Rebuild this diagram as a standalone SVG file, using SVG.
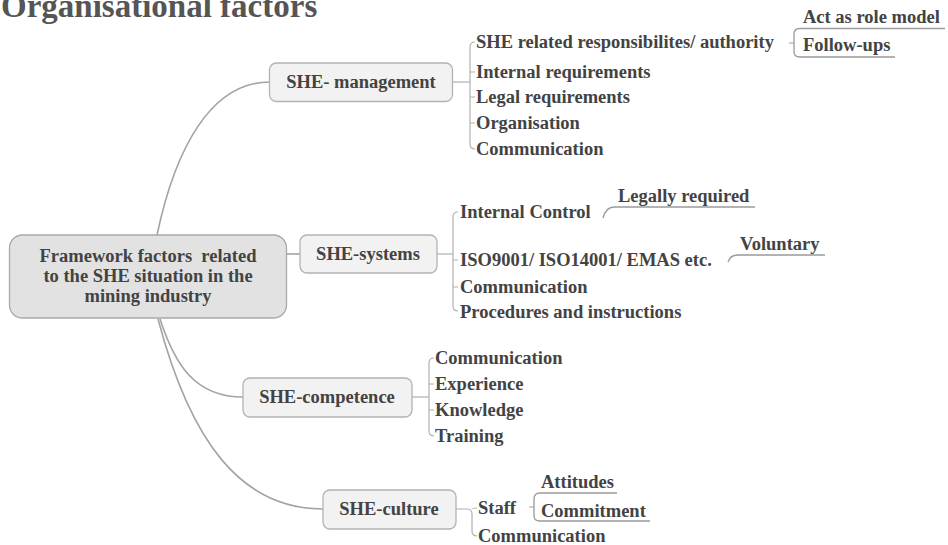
<svg xmlns="http://www.w3.org/2000/svg" width="948" height="545" viewBox="0 0 948 545" font-family="'Liberation Serif', 'Times New Roman', 'DejaVu Serif', serif">
<style>
text{font-family:'Liberation Serif','Times New Roman','DejaVu Serif',serif;font-weight:700;fill:#434343}
.t{font-size:18.5px}
.c{text-anchor:middle}
.title{font-size:33px;fill:#555}
.root{fill:#e2e2e2;stroke:#a9a9a9;stroke-width:1.3}
.node{fill:#f2f2f2;stroke:#b3b3b3;stroke-width:1.3}
.ln{fill:none;stroke:#a3a3a3;stroke-width:1.6}
.br{fill:none;stroke:#b0b0b0;stroke-width:1.2}
.ul{fill:none;stroke:#9a9a9a;stroke-width:1.3}
</style>
<rect width="948" height="545" fill="#fff"/>
<text class="title" x="1" y="17">Organisational factors</text>

<g id="connectors">
  <path class="ln" d="M157,235 C175,150 210,82 270,82"/>
  <path class="ln" d="M287,254 H300"/>
  <path class="ln" d="M160,319 C175,365 195,397 243,397"/>
  <path class="ln" d="M158,319 C190,440 240,509 323,509"/>
  <path class="br" d="M453,82 H470"/>
  <path class="br" d="M475,42 Q470,42 470,47 L470,144 Q470,149 475,149"/>
  <path class="br" d="M470,72 H475 M470,97 H475 M470,123 H475"/>
  <path class="br" d="M789,43 H794"/>
  <path class="ul" d="M945,28.5 H800 Q794,28.5 794,34 L794,52 Q794,57 800,57 H895"/>
  <path class="br" d="M437,254 H453"/>
  <path class="br" d="M458,212 Q453,212 453,217 L453,306 Q453,311 458,311"/>
  <path class="br" d="M453,260 H458 M453,287 H458"/>
  <path class="ul" d="M603,218 Q606,207 614,207 H755"/>
  <path class="ul" d="M728,262 Q730,255 738,255 H825"/>
  <path class="br" d="M412,397 H429"/>
  <path class="br" d="M434,358 Q429,358 429,363 L429,431 Q429,436 434,436"/>
  <path class="br" d="M429,384 H434 M429,410 H434"/>
  <path class="br" d="M456,509 H467 Q472,509 472,514 L472,531 Q472,536 477,536"/>
  <path class="br" d="M472,509 Q472,508 477,508"/>
  <path class="br" d="M529,507 H534"/>
  <path class="ul" d="M617,493 H540 Q534,493 534,499 L534,516 Q534,521 540,521 H650"/>
</g>

<g id="root">
  <rect class="root" x="9.5" y="235" width="277" height="83" rx="13"/>
  <text class="t c" x="148" y="262" xml:space="preserve">Framework factors  related</text>
  <text class="t c" x="148" y="282">to the SHE situation in the</text>
  <text class="t c" x="148" y="302">mining industry</text>
</g>

<g id="she-management">
  <rect class="node" x="269.5" y="63" width="183" height="38.5" rx="7"/>
  <text class="t c" x="361" y="88">SHE- management</text>
</g>
<g id="she-management-items">
  <text class="t" x="476" y="48">SHE related responsibilites/ authority</text>
  <text class="t" x="476" y="78">Internal requirements</text>
  <text class="t" x="476" y="103">Legal requirements</text>
  <text class="t" x="476" y="129">Organisation</text>
  <text class="t" x="476" y="155">Communication</text>
</g>
<g id="act-as-role-model"><text class="t" x="803" y="23">Act as role model</text></g>
<g id="follow-ups"><text class="t" x="803" y="51">Follow-ups</text></g>

<g id="she-systems">
  <rect class="node" x="300" y="235" width="137" height="38" rx="7"/>
  <text class="t c" x="368" y="260">SHE-systems</text>
</g>
<g id="she-systems-items">
  <text class="t" x="460" y="218">Internal Control</text>
  <text class="t" x="460" y="266">ISO9001/ ISO14001/ EMAS etc.</text>
  <text class="t" x="460" y="293">Communication</text>
  <text class="t" x="460" y="318">Procedures and instructions</text>
</g>
<g id="legally-required"><text class="t" x="618" y="202">Legally required</text></g>
<g id="voluntary"><text class="t" x="740" y="250">Voluntary</text></g>

<g id="she-competence">
  <rect class="node" x="243" y="378" width="169" height="39" rx="7"/>
  <text class="t c" x="327" y="403">SHE-competence</text>
</g>
<g id="she-competence-items">
  <text class="t" x="435" y="364">Communication</text>
  <text class="t" x="435" y="390">Experience</text>
  <text class="t" x="435" y="416">Knowledge</text>
  <text class="t" x="435" y="442">Training</text>
</g>

<g id="she-culture">
  <rect class="node" x="323" y="490" width="133" height="39" rx="7"/>
  <text class="t c" x="389" y="515">SHE-culture</text>
</g>
<g id="she-culture-items">
  <text class="t" x="478" y="514">Staff</text>
  <text class="t" x="478" y="542">Communication</text>
</g>
<g id="attitudes"><text class="t" x="541" y="488">Attitudes</text></g>
<g id="commitment"><text class="t" x="541" y="517">Commitment</text></g>
</svg>
